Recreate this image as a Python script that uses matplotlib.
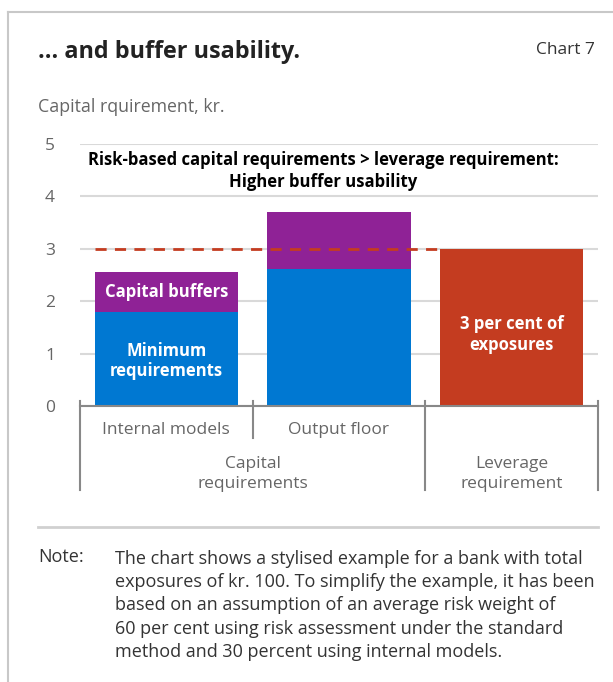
import matplotlib.pyplot as plt
from matplotlib.lines import Line2D
import matplotlib.transforms as mtransforms

# data
categories = ['Internal models', 'Output floor', '']
groups = ['Capital\nrequirements', 'Leverage\nrequirement']
minimum = [1.8, 2.61, 0]
buffers = [0.75, 1.09, 0]
leverage = [0, 0, 3.0]
yticks = [0, 1, 2, 3, 4, 5]

blue = '#0078d2'
purple = '#8f2296'
red = '#c43c20'
grey_txt = '#666666'

plt.rcParams['font.family'] = ['Open Sans', 'DejaVu Sans']

W, H = 613, 682
fig = plt.figure(figsize=(W / 100, H / 100), dpi=100)

def fx(px):
    return px / W

def fy(py):
    return 1 - py / H

# frame lines
fig.add_artist(Line2D([fx(8), fx(8)], [fy(12), 0], color='#c8c8c8', lw=1.5))
fig.add_artist(Line2D([fx(8), 1], [fy(12), fy(12)], color='#c8c8c8', lw=1.5))
fig.add_artist(Line2D([fx(38), fx(598)], [fy(527), fy(527)], color='#d0d0d0', lw=2))

fig.text(fx(38), fy(52), '... and buffer usability.', fontsize=16.8, fontweight='bold',
         color='#222222', va='center', ha='left')
fig.text(fx(595), fy(50), 'Chart 7', fontsize=12.5, color='#333333', va='center', ha='right')
fig.text(fx(38), fy(107), 'Capital rquirement, kr.', fontsize=12.8, color=grey_txt,
         va='center', ha='left')

ax = fig.add_axes([fx(80), fy(406), fx(598) - fx(80), fy(144) - fy(406)])
x = list(range(len(categories)))
bw = 0.83
ax.bar(x, minimum, width=bw, color=blue, zorder=2)
ax.bar(x, buffers, width=bw, bottom=minimum, color=purple, zorder=2)
ax.bar(x, leverage, width=bw, color=red, zorder=4)
ax.hlines(leverage[2], x[0] - bw / 2, x[2] - bw / 2, colors=red, linestyles=(0, (4, 3)),
          lw=2, zorder=3)

ax.set_xlim(-0.5, 2.5)
ax.set_ylim(0, 5)
ax.set_yticks(yticks)
ax.set_yticklabels([str(t) for t in yticks])
ax.tick_params(axis='y', length=0, pad=18, labelsize=12.5, labelcolor=grey_txt)
ax.set_xticks([])
ax.grid(axis='y', color='#d9d9d9', lw=1.5, zorder=0)
for s in ['left', 'right', 'top']:
    ax.spines[s].set_visible(False)
ax.spines['bottom'].set_color('#888888')
ax.spines['bottom'].set_linewidth(1.5)
ax.spines['bottom'].set_zorder(5)

# category separators below axis
trans = mtransforms.blended_transform_factory(ax.transData, ax.transAxes)
for sx, low in [(-0.5, -0.32), (0.5, -0.122), (1.5, -0.32), (2.5, -0.32)]:
    ax.plot([sx, sx], [0.019, low], transform=trans, color='#888888', lw=1.5,
            clip_on=False)
for i, c in enumerate(categories):
    ax.text(i, -0.092, c, transform=trans, ha='center', va='center',
            fontsize=12.5, color=grey_txt)
ax.text(0.5, -0.258, groups[0], transform=trans, ha='center', va='center',
        fontsize=12.5, color=grey_txt, linespacing=1.32)
ax.text(2, -0.258, groups[1], transform=trans, ha='center', va='center',
        fontsize=12.5, color=grey_txt, linespacing=1.32)

# bar labels
ax.text(0, minimum[0] + buffers[0] / 2, 'Capital buffers', ha='center', va='center',
        color='white', fontsize=12, fontweight='bold', zorder=6)
ax.text(0, minimum[0] / 2 - 0.04, 'Minimum\nrequirements', ha='center', va='center',
        color='white', fontsize=12, fontweight='bold', zorder=6, linespacing=1.2)
ax.text(2, leverage[2] / 2 - 0.14, '3 per cent of\nexposures', ha='center', va='center',
        color='white', fontsize=12, fontweight='bold', zorder=6, linespacing=1.2)
ax.text(0.91, 4.48, 'Risk-based capital requirements > leverage requirement:\nHigher buffer usability',
        ha='center', va='center', color='black', fontsize=12, fontweight='bold',
        zorder=6, linespacing=1.25)

note = ('The chart shows a stylised example for a bank with total\n'
        'exposures of kr. 100. To simplify the example, it has been\n'
        'based on an assumption of an average risk weight of\n'
        '60 per cent using risk assessment under the standard\n'
        'method and 30 percent using internal models.')
fig.text(fx(38), fy(557), 'Note:', fontsize=13, color='#333333', va='center', ha='left')
fig.text(fx(115), fy(550), note, fontsize=13, color='#333333', va='top', ha='left',
         linespacing=1.375)

fig.savefig('out.png', dpi=100)
